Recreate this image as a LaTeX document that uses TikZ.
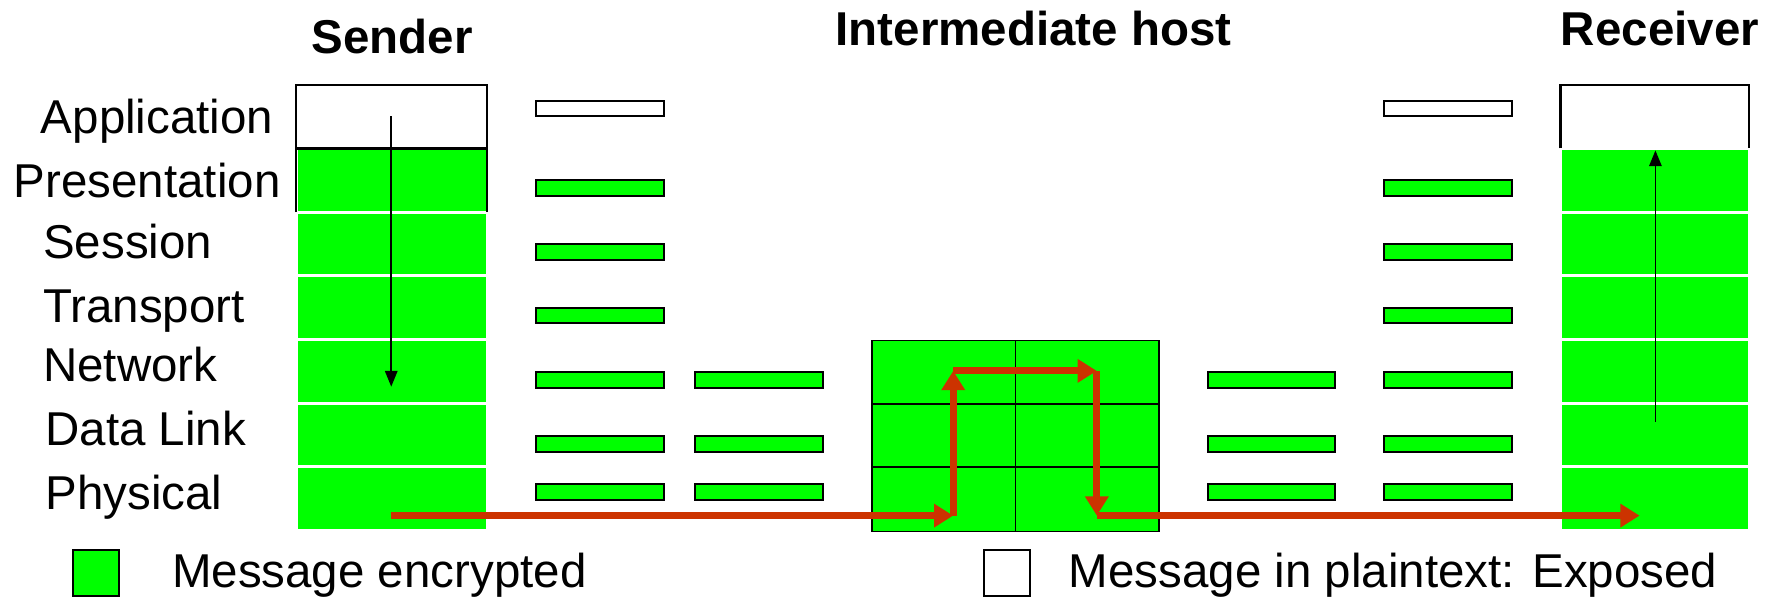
\documentclass[tikz,border=0pt]{standalone}
\usepackage{fontspec}
\setmainfont{Liberation Sans}
\usetikzlibrary{arrows.meta}

\definecolor{encgreen}{RGB}{0,255,0}
\definecolor{msgred}{RGB}{204,51,0}

\begin{document}
\begin{tikzpicture}[x=1pt, y=-1pt,
    txt/.style={font=\fontsize{42}{50}\selectfont, inner sep=0pt, anchor=base west},
    title/.style={font=\fontsize{42}{50}\selectfont\bfseries, inner sep=0pt, anchor=base},
    cell/.style={fill=encgreen, draw=white, line width=2.5pt},
    bar/.style={draw=black, line width=1.8pt},
    flow/.style={line width=1.6pt, -{Triangle[length=14pt,width=11pt]}},
    hop/.style={draw=msgred, line width=6pt, -{Triangle[length=17pt,width=20pt]}}]
    \useasboundingbox (0,0) rectangle (1568,532);

    % Titles
    \node[title] (sender) at (347,47) {Sender};
    \node[title] (inter) at (914,40) {Intermediate host};
    \node[title] (receiver) at (1468,40) {Receiver};

    % Layer names
    \node[txt] (app) at (36,118) {Application};
    \node[txt] (pres) at (12,175) {Presentation};
    \node[txt] (ses) at (38,229) {Session};
    \node[txt] (trn) at (38,285) {Transport};
    \node[txt] (net) at (38,337) {Network};
    \node[txt] (dl) at (40,394) {Data Link};
    \node[txt] (phy) at (40,451) {Physical};

    % Sender and receiver stacks
    \foreach \i in {1,...,6} {
        \path[cell] (262,{75+56.3*\i}) rectangle (431,{75+56.3*(\i+1)});
        \path[cell] (1380,{75+56.3*\i}) rectangle (1547,{75+56.3*(\i+1)});
    }
    \draw[line width=2pt] (262,187.6) -- (262,75) -- (431,75) -- (431,187.6);
    \draw[line width=2pt] (262,131.3) -- (431,131.3);
    \draw[line width=2pt] (1380,131.3) -- (1380,75) -- (1547,75) -- (1547,131.3);

    % Intermediate host
    \draw[fill=encgreen, line width=1.5pt] (771,301) rectangle (1025,470);
    \draw[line width=1.5pt] (898,301) -- (898,470);
    \draw[line width=1.5pt] (771,357) -- (1025,357);
    \draw[line width=1.5pt] (771,413) -- (1025,413);

    % Headers on the wire
    \foreach \x in {474,1224} {
        \draw[bar, fill=white] (\x,89) rectangle ++(113,14);
        \foreach \y in {166,223,279,336,393,435}
            \draw[bar, fill=encgreen] (\x,{\y-7}) rectangle ++(113,14);
    }
    \foreach \x in {615,1068}
        \foreach \y in {336,393,435}
            \draw[bar, fill=encgreen] (\x,{\y-7}) rectangle ++(113,14);

    % Down and up the stacks
    \coordinate (sTop) at (346,103);
    \coordinate (sBot) at (346,342);
    \coordinate (rBot) at (1464,373);
    \coordinate (rTop) at (1464,133);
    \draw[flow] (sTop) -- (sBot);
    \draw[flow] (rBot) -- (rTop);

    % Path of the message
    \coordinate (m0) at (346,456);
    \coordinate (m1) at (843,456);
    \coordinate (m2) at (843,328);
    \coordinate (m3) at (970,328);
    \coordinate (m4) at (970,456);
    \coordinate (m5) at (1450,456);
    \draw[hop] (m0) -- (m1);
    \draw[hop] (m1) -- (m2);
    \draw[hop] (m2) -- (m3);
    \draw[hop] (m3) -- (m4);
    \draw[hop] (m4) -- (m5);

    % Legend
    \node[draw, line width=1.8pt, fill=encgreen, minimum size=41pt, inner sep=0pt] (keyenc) at (85,506.5) {};
    \node[txt] (keyenctxt) at (152,520) {Message encrypted};
    \node[draw, line width=1.8pt, fill=white, minimum size=41pt, inner sep=0pt] (keyplain) at (890.5,506.5) {};
    \node[txt] (keyplaintxt) at (945,520) {Message in plaintext: Exposed};
\end{tikzpicture}
\end{document}
